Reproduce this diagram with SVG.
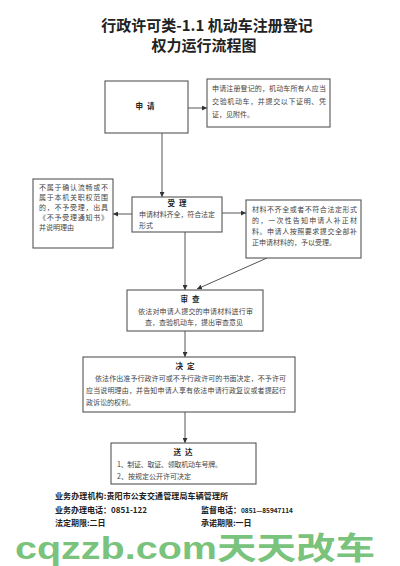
<svg xmlns="http://www.w3.org/2000/svg" width="400" height="566" viewBox="0 0 400 566">
<style>
.box{fill:#fff;stroke:#555;stroke-width:1.1}
.t{font-family:"Noto Sans CJK SC","Liberation Sans",sans-serif;font-size:7px;fill:#444}
.h{font-family:"Noto Sans CJK SC","Liberation Sans",sans-serif;font-size:7.5px;font-weight:bold;fill:#222;text-anchor:middle;letter-spacing:4px}
.title{font-family:"Noto Sans CJK SC","Liberation Sans",sans-serif;font-size:15px;font-weight:bold;fill:#222;text-anchor:middle}
.f{font-family:"Noto Sans CJK SC","Liberation Sans",sans-serif;font-size:8px;font-weight:bold;fill:#222}
.c{stroke:#555;stroke-width:1;fill:none;marker-end:url(#arr)}
</style>
<defs>
<marker id="arr" viewBox="0 0 10 10" refX="10" refY="5" markerWidth="5" markerHeight="5" orient="auto" markerUnits="userSpaceOnUse"><path d="M0,0 L10,5 L0,10 z" fill="#333"/></marker>
</defs>
<rect width="400" height="566" fill="#fff"/>
<g id="title">
<text class="title" x="207" y="31">行政许可类-1.1 机动车注册登记</text>
<text class="title" x="204" y="51">权力运行流程图</text>
</g>
<g id="connectors">
<line class="c" x1="188" y1="108" x2="207" y2="108"/>
<line class="c" x1="162" y1="133" x2="162" y2="197"/>
<line class="c" x1="132" y1="214" x2="113" y2="214"/>
<line class="c" x1="222" y1="213" x2="246" y2="213"/>
<line class="c" x1="185" y1="232" x2="185" y2="290"/>
<line class="c" x1="267" y1="258" x2="197" y2="289"/>
<line class="c" x1="185" y1="331" x2="185" y2="357"/>
<line class="c" x1="185" y1="412" x2="185" y2="443"/>
</g>
<g id="apply">
<rect class="box" x="105" y="81" width="83" height="52"/>
<text class="h" x="147" y="109">申请</text>
</g>
<g id="apply-note">
<rect class="box" x="207" y="79" width="123" height="48"/>
<text class="t" x="212" y="91" textLength="114">申请注册登记的，机动车所有人应当</text>
<text class="t" x="212" y="104" textLength="114">交验机动车，并提交以下证明、凭</text>
<text class="t" x="212" y="117">证，见附件。</text>
</g>
<g id="reject">
<rect class="box" x="33" y="179" width="80" height="69"/>
<text class="t" x="39" y="190" textLength="69">不属于确认流畅或不</text>
<text class="t" x="39" y="200" textLength="69">属于本机关职权范围</text>
<text class="t" x="39" y="210" textLength="69">的，不予受理，出具</text>
<text class="t" x="39" y="220" textLength="69">《不予受理通知书》</text>
<text class="t" x="39" y="230">并说明理由</text>
</g>
<g id="accept">
<rect class="box" x="132" y="197" width="90" height="35"/>
<text class="h" x="179" y="206">受理</text>
<text class="t" x="139" y="217" textLength="76">申请材料齐全，符合法定</text>
<text class="t" x="139" y="228">形式</text>
</g>
<g id="supplement">
<rect class="box" x="246" y="200" width="115" height="58"/>
<text class="t" x="252" y="212" textLength="105">材料不齐全或者不符合法定形式</text>
<text class="t" x="252" y="223" textLength="105">的，一次性告知申请人补正材</text>
<text class="t" x="252" y="234" textLength="105">料。申请人按照要求提交全部补</text>
<text class="t" x="252" y="245">正申请材料的，予以受理。</text>
</g>
<g id="review">
<rect class="box" x="127" y="290" width="136" height="41"/>
<text class="h" x="192" y="302">审查</text>
<text class="t" x="138" y="314" textLength="115">依法对申请人提交的申请材料进行审</text>
<text class="t" x="145" y="325">查，查验机动车，提出审查意见</text>
</g>
<g id="decide">
<rect class="box" x="83" y="357" width="212" height="55"/>
<text class="h" x="187" y="369">决定</text>
<text class="t" x="95" y="381" textLength="191">依法作出准予行政许可或不予行政许可的书面决定，不予许可</text>
<text class="t" x="86" y="393" textLength="200">应当说明理由，并告知申请人享有依法申请行政复议或者提起行</text>
<text class="t" x="86" y="405">政诉讼的权利。</text>
</g>
<g id="deliver">
<rect class="box" x="111" y="443" width="145" height="41"/>
<text class="h" x="185" y="455">送达</text>
<text class="t" x="117" y="467" textLength="105">1、制证、取证、领取机动车号牌。</text>
<text class="t" x="117" y="479">2、按规定公开许可决定</text>
</g>
<g id="footer">
<text class="f" x="55" y="499" textLength="173">业务办理机构:贵阳市公安交通管理局车辆管理所</text>
<text class="f" x="55" y="513">业务办理电话：0851-122</text>
<text class="f" x="201" y="513">监督电话：<tspan font-size="6.5">0851—85947114</tspan></text>
<text class="f" x="55" y="526">法定期限:二日</text>
<text class="f" x="201" y="526">承诺期限:一日</text>
</g>
<g id="watermark">
<text x="15" y="559" font-family="Liberation Sans,Noto Sans CJK SC,sans-serif" font-size="31" font-weight="bold" fill="#66bb6a" fill-opacity="0.9" textLength="360" lengthAdjust="spacingAndGlyphs">cqzzb.com天天改车</text>
</g>
</svg>
